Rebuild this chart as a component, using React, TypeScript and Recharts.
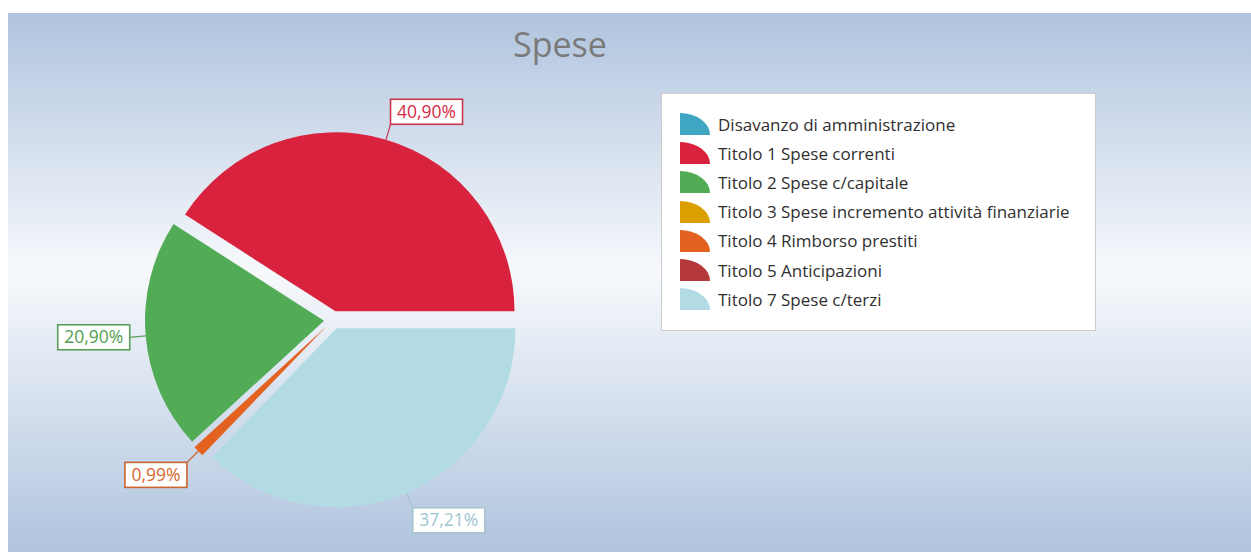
import React from 'react';
import { PieChart, Pie, Customized, Sector } from 'recharts';

const title = 'Spese';
const categories = [
  'Disavanzo di amministrazione',
  'Titolo 1 Spese correnti',
  'Titolo 2 Spese c/capitale',
  'Titolo 3 Spese incremento attività finanziarie',
  'Titolo 4 Rimborso prestiti',
  'Titolo 5 Anticipazioni',
  'Titolo 7 Spese c/terzi',
];
const values = [0, 40.9, 20.9, 0, 0.99, 0, 37.21];
const colors = ['#3ea6c2', '#d9233e', '#52ac56', '#dba000', '#e4621f', '#b5383a', '#b3dbe3'];
const labelTextColors = ['#3ea6c2', '#d42a45', '#4f9f52', '#d8682e', '#d8682e', '#b5383a', '#9ec6d1'];
const labelBorderColors = ['#3ea6c2', '#c8354d', '#5a9e5c', '#c9652f', '#c9652f', '#b5383a', '#a6c5cc'];

const data = categories.map((name, i) => ({ name, value: values[i] }));

const W = 1243;
const H = 539;
const RAD = Math.PI / 180;
const EXPLODE = 9;
const LINE = 16;
const FONT = '"Open Sans", "Noto Sans", sans-serif';

const fmt = (v: number) => v.toFixed(2).replace('.', ',') + '%';

const renderSlice = (props: any) => {
  const { cx, cy, midAngle, outerRadius, startAngle, endAngle, index, value } = props;
  if (!value) return <g key={'s' + index} />;
  const cos = Math.cos(-midAngle * RAD);
  const sin = Math.sin(-midAngle * RAD);
  const ox = cx + EXPLODE * cos;
  const oy = cy + EXPLODE * sin;
  const sx = ox + outerRadius * cos;
  const sy = oy + outerRadius * sin;
  const ex = sx + LINE * cos;
  const ey = sy + LINE * sin;
  const text = fmt(value);
  const digits = text.replace(/[^0-9]/g, '').length;
  const bw = digits * 10 + 5 + 15 + 12;
  const bh = 25;
  const bx = cos > 0 ? ex : ex - bw;
  let by: number;
  if (Math.abs(sin) < 0.3) by = ey - bh / 2;
  else by = sin < 0 ? ey - bh : ey;
  return (
    <g key={'s' + index}>
      <Sector
        cx={ox}
        cy={oy}
        innerRadius={0}
        outerRadius={outerRadius}
        startAngle={startAngle}
        endAngle={endAngle}
        fill={colors[index]}
        stroke="none"
      />
      <line x1={sx} y1={sy} x2={ex} y2={ey} stroke={labelBorderColors[index]} strokeWidth={1.2} />
      <rect x={bx} y={by} width={bw} height={bh} fill="#ffffff" stroke={labelBorderColors[index]} strokeWidth={1.6} />
      <text
        x={bx + bw / 2}
        y={by + bh / 2 + 6}
        textAnchor="middle"
        fontFamily={FONT}
        fontSize={17.5}
        fill={labelTextColors[index]}
      >
        {text}
      </text>
    </g>
  );
};

const LegendBox = () => (
  <div
    style={{
      position: 'absolute',
      left: 653,
      top: 80,
      width: 435,
      height: 238,
      background: '#ffffff',
      border: '1px solid #cccccc',
      boxSizing: 'border-box',
      fontFamily: FONT,
    }}
  >
    {categories.map((name, i) => (
      <div
        key={name}
        style={{
          position: 'absolute',
          left: 18,
          top: 15.5 + i * 29.2,
          height: 29.2,
          display: 'flex',
          alignItems: 'center',
          whiteSpace: 'nowrap',
        }}
      >
        <svg width={30} height={22} style={{ display: 'block' }}>
          <path d="M0,22 L0,0 A30,22 0 0 1 30,22 Z" fill={colors[i]} />
        </svg>
        <span style={{ marginLeft: 8, fontSize: 17, color: '#2f2f2f' }}>{name}</span>
      </div>
    ))}
  </div>
);

const Title = () => (
  <text x={552} y={44} textAnchor="middle" fontFamily={FONT} fontSize={34} fill="#7a7a7a">
    {title}
  </text>
);

export default function App() {
  return (
    <div
      style={{
        position: 'absolute',
        left: 8,
        top: 13,
        width: W,
        height: H,
        background: 'linear-gradient(to bottom, #b0c4de 0%, #f7f9fc 48%, #b0c4de 100%)',
      }}
    >
      <PieChart width={W} height={H} margin={{ top: 0, right: 0, bottom: 0, left: 0 }}>
        <Customized component={Title} />
        <Pie
          data={data}
          dataKey="value"
          nameKey="name"
          cx={325}
          cy={307}
          innerRadius={0}
          outerRadius={179}
          startAngle={0}
          endAngle={360}
          fill="none"
          stroke="none"
          labelLine={false}
          label={renderSlice}
          isAnimationActive={false}
        />
      </PieChart>
      <LegendBox />
    </div>
  );
}
